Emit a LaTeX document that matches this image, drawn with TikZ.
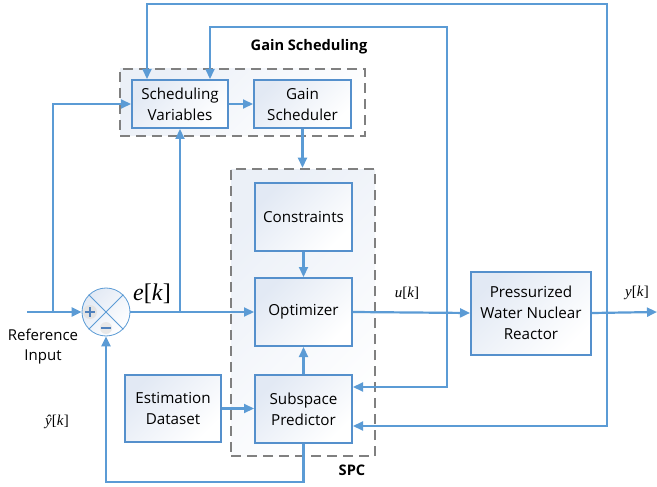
\documentclass[tikz,border=0pt]{standalone}
\usepackage{fontspec}
\setmainfont{Open Sans}
\newfontfamily\tms{Liberation Serif}
\usetikzlibrary{arrows.meta,calc}
\definecolor{lineblue}{HTML}{5B9BD5}
\definecolor{boxblue}{HTML}{5590CC}
\definecolor{signblue}{HTML}{4F81BD}
\definecolor{dashgray}{HTML}{808080}
\definecolor{shadeblue}{HTML}{E2E9F4}
\begin{document}
\begin{tikzpicture}[x=1pt,y=-1pt,
  box/.style={draw=boxblue, line width=2pt, top color=shadeblue, bottom color=white, shading angle=45,
    align=center, inner sep=2pt, font=\fontsize{15.2}{21}\selectfont},
  grp/.style={draw=dashgray, line width=2.5pt, dash pattern=on 10pt off 6pt, top color=shadeblue!70, bottom color=white, shading angle=45, inner sep=0pt},
  ln/.style={draw=lineblue, line width=2.2pt},
  arr/.style={ln, -{Triangle[length=10pt,width=9pt]}},
  lbl/.style={font=\tms\fontsize{15}{15}\selectfont, inner sep=0pt},
  ttl/.style={font=\bfseries\fontsize{14.6}{14.6}\selectfont, inner sep=0pt}
]
\useasboundingbox (0,0) rectangle (657,487);
% groups
\node[grp, minimum width=245pt, minimum height=67pt] (gsg) at (242.5,102.5) {};
\node[grp, minimum width=144pt, minimum height=287pt] (spc) at (303,312.5) {};
\node[ttl] (gsl) at (309,47) {Gain Scheduling};
\node[ttl] (spcl) at (352,470) {SPC};
% blocks
\node[box, minimum width=96pt, minimum height=48pt] (sv) at (180,104) {Scheduling\\Variables};
\node[box, minimum width=97pt, minimum height=48pt] (gs) at (302.5,104) {Gain\\Scheduler};
\node[box, minimum width=97pt, minimum height=68pt] (cons) at (303.5,217) {Constraints};
\node[box, minimum width=97pt, minimum height=68pt] (opt) at (303.5,312) {Optimizer};
\node[box, minimum width=97pt, minimum height=68pt] (sp) at (303.5,409) {Subspace\\Predictor};
\node[box, minimum width=120pt, minimum height=83pt] (pwnr) at (531,313) {Pressurized\\Water Nuclear\\Reactor};
\node[box, minimum width=96pt, minimum height=67pt] (ed) at (173,408.5) {Estimation\\Dataset};
% summing junction
\node[circle, draw=lineblue, line width=0.8pt, minimum size=48pt, inner sep=0pt, top color=shadeblue, bottom color=white, shading angle=45] (sum) at (106,312) {};
\fill[gray!22] ($(sum)+(-16,0)$) circle (7pt);
\fill[gray!18] ($(sum)+(0,16)$) circle (6pt);
\draw[lineblue, line width=0.8pt] (sum.north west) -- (sum.south east) (sum.north east) -- (sum.south west);
\draw[signblue, line width=2.6pt] ($(sum)+(-21,0)$) -- ($(sum)+(-11,0)$) ($(sum)+(-16,-5)$) -- ($(sum)+(-16,5)$);
\draw[signblue, line width=2.6pt] ($(sum)+(-5,16)$) -- ($(sum)+(5,16)$);
% labels
\node[align=center, font=\fontsize{15}{20}\selectfont, inner sep=0pt] (refl) at (43,347) {Reference\\Input};
\node[inner sep=0pt, font=\tms\fontsize{24}{24}\selectfont] (el) at (152,294) {\textit{e}[\textit{k}]};
\node[lbl] (ul) at (407,293) {\textit{u}[\textit{k}]};
\node[lbl] (yl) at (637,293) {\textit{y}[\textit{k}]};
\node[lbl] (yhl) at (57,422) {\textit{ŷ}[\textit{k}]};
% coordinates
\coordinate (ref) at (27,312);
\coordinate (rb) at (53,312);
\coordinate (eb) at (180,312);
\coordinate (ub) at (447,312);
\coordinate (yb) at (607,312);
\coordinate (out) at (657,312);
\coordinate (tl) at (147,4);
\coordinate (tu) at (210,27);
\coordinate (yd) at (607,426);
\coordinate (ud) at (447,387);
\coordinate (bl) at (106,482);
% connectors
\draw[arr] (sv.east) -- (gs.west);
\draw[arr] (gs.south) -- (gs.south |- spc.north);
\draw[arr] (cons.south) -- (opt.north);
\draw[arr] (sp.north) -- (opt.south);
\draw[arr] (ed.east) -- (ed.east -| sp.west);
\draw[arr] (ref) -- (sum.west);
\draw[arr] (rb) |- (sv.west);
\draw[arr] (sum.east) -- (opt.west);
\draw[arr] (eb) -- (eb |- sv.south);
\draw[arr] (opt.east) -- (pwnr.west);
\draw[arr] (pwnr.east) -- (out);
\draw[arr] (yb) |- (tl) -- (tl |- sv.north);
\draw[arr] (ub) |- (tu) -- (tu |- sv.north);
\draw[arr] (yb) -- (yd) -- (yd -| sp.east);
\draw[arr] (ub) -- (ud) -- (ud -| sp.east);
\draw[arr] (sp.south) |- (bl) -- (bl |- sum.south);
\end{tikzpicture}
\end{document}
